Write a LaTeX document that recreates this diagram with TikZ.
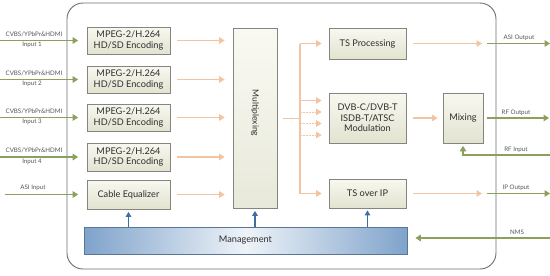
\documentclass[tikz,border=0pt]{standalone}
\usepackage{fontspec}
\setmainfont{Lato}
\usetikzlibrary{arrows.meta}
\definecolor{orng}{HTML}{F2C4A2}
\definecolor{grn}{HTML}{8AA05C}
\definecolor{blu}{HTML}{3D6FA5}
\definecolor{bord}{HTML}{85857D}
\definecolor{txt}{HTML}{2E2E2E}
\definecolor{lbl}{HTML}{555555}
\definecolor{boxt}{HTML}{F8F8F0}
\definecolor{boxb}{HTML}{E2E3D0}
\definecolor{mgl}{HTML}{7FA3CB}
\definecolor{mgc}{HTML}{EEF3F8}
\definecolor{outer}{HTML}{6E6E6E}
\begin{document}
\begin{tikzpicture}[x=1pt,y=-1pt,
  box/.style={draw=bord, line width=0.7pt, top color=boxt, bottom color=boxb,
    align=center, font=\fontsize{9.2}{10.5}\selectfont, text=txt, inner sep=0pt},
  oarr/.style={draw=orng, line width=1.3pt, -{Triangle[length=5.5pt,width=6.5pt]}},
  oline/.style={draw=orng, line width=1.3pt},
  odash/.style={draw=orng, line width=1pt, dash pattern=on 1.5pt off 1.5pt, -{Triangle[length=5.5pt,width=6.5pt]}},
  garr/.style={draw=grn, line width=1.4pt, -{Triangle[length=5.5pt,width=6.5pt]}},
  barr/.style={draw=blu, line width=1.4pt, -{Triangle[length=5pt,width=5.5pt]}},
  lab/.style={font=\fontsize{6.2}{7}\selectfont, text=lbl, inner sep=0pt}
]
\useasboundingbox (0,0) rectangle (550,276);
% outer frame
\draw[outer, line width=0.9pt, rounded corners=16pt] (67,3) rectangle (496,269);

% encoder boxes
\node[box, minimum width=83pt, minimum height=27pt] (enc1) at (128.5,40.5) {MPEG-2/H.264\\HD/SD Encoding};
\node[box, minimum width=83pt, minimum height=27pt] (enc2) at (128.5,79.5) {MPEG-2/H.264\\HD/SD Encoding};
\node[box, minimum width=83pt, minimum height=27pt] (enc3) at (128.5,117.5) {MPEG-2/H.264\\HD/SD Encoding};
\node[box, minimum width=83pt, minimum height=28pt] (enc4) at (128.5,157) {MPEG-2/H.264\\HD/SD Encoding};
\node[box, minimum width=83pt, minimum height=29pt] (cab) at (128.5,194.5) {Cable Equalizer};

% multiplexer
\node[box, minimum width=44pt, minimum height=180pt, top color=boxt!80!white, bottom color=boxb!80!white] (mux) at (255,118) {};
\node[font=\fontsize{8.5}{10}\selectfont, text=txt, rotate=-90, inner sep=0pt] (muxlbl) at (255,113) {Multiplexing};

% right boxes
\node[box, minimum width=77pt, minimum height=31pt] (tsp) at (367.5,43.5) {TS Processing};
\node[box, minimum width=77pt, minimum height=50pt] (dvb) at (367.5,118) {DVB-C/DVB-T\\ISDB-T/ATSC\\Modulation};
\node[box, minimum width=40pt, minimum height=50pt] (mix) at (463,118) {Mixing};
\node[box, minimum width=77pt, minimum height=29pt] (tsip) at (367.5,193.5) {TS over IP};

% management
\node[draw=blu!55!gray, line width=0.7pt, left color=mgl, right color=mgl, middle color=mgc,
  minimum width=323pt, minimum height=27pt, inner sep=0pt,
  font=\fontsize{9.2}{10.5}\selectfont, text=txt] (mgmt) at (245.5,240.5) {Management};

% inputs on the left
\foreach \n/\y/\k in {enc1/40.5/1, enc2/79.5/2, enc3/117.5/3, enc4/157/4} {
  \coordinate (in\k) at (0,\y);
  \draw[garr, shorten >=8.5pt] (in\k) -- (\n.west);
  \node[lab] (lt\k) at (34,\y-6.5) {CVBS/YPbPr\&HDMI};
  \node[lab] (lb\k) at (32,\y+4.5) {Input \k};
}
\coordinate (asiin) at (5,194.5);
\draw[garr, shorten >=8.5pt] (asiin) -- (cab.west);
\node[lab] (asilbl) at (33,188) {ASI Input};

% encoders to multiplexer
\foreach \n in {enc1,enc2,enc3,enc4,cab} {
  \draw[oarr, shorten <=7pt, shorten >=8pt] (\n.east) -- (\n.east -| mux.west);
}

% multiplexer to right
\coordinate (jn) at (300,118.5);
\coordinate (jt) at (300,43.5);
\coordinate (jb) at (300,193.5);
\draw[oline, shorten <=6pt] (mux.east |- jn) -- (jn);
\draw[oline] (jt) -- (jb);
\draw[oarr, shorten >=7pt] (jt) -- (tsp.west);
\draw[oarr, shorten >=7pt] (jb) -- (tsip.west);
\coordinate (d1) at (300,100.5);
\coordinate (d2) at (300,112);
\coordinate (d3) at (300,123.5);
\coordinate (d4) at (300,135);
\draw[oarr, shorten >=7pt] (d1) -- (d1 -| dvb.west);
\draw[odash, shorten >=7pt] (d2) -- (d2 -| dvb.west);
\draw[odash, shorten >=7pt] (d3) -- (d3 -| dvb.west);
\draw[odash, shorten >=7pt] (d4) -- (d4 -| dvb.west);

% dvb to mixing
\draw[oarr, shorten <=7pt, shorten >=5pt] (dvb.east) -- (mix.west);

% outputs
\coordinate (o1) at (482,43.5);
\coordinate (o3) at (482,193.5);
\draw[oarr, shorten <=7pt] (tsp.east) -- (o1);
\draw[oarr, shorten <=7pt] (tsip.east) -- (o3);
\coordinate (g1a) at (487,43.5);  \coordinate (g1b) at (550,43.5);
\coordinate (g2b) at (549,118);
\coordinate (g3a) at (487,193.5); \coordinate (g3b) at (550,193.5);
\draw[garr] (g1a) -- (g1b);
\draw[garr, shorten <=4pt] (mix.east) -- (g2b);
\draw[garr] (g3a) -- (g3b);
\node[lab] (asiout) at (519,38) {ASI Output};
\node[lab] (rfout) at (516,112.5) {RF Output};
\node[lab] (ipout) at (516,188) {IP Output};

% RF input
\coordinate (rfa) at (550,155);
\coordinate (rfc) at (463,155);
\draw[garr, shorten >=2.5pt] (rfa) -- (rfc) -- (mix.south);
\node[lab] (rfin) at (516,150) {RF Input};

% NMS
\coordinate (nmsa) at (550,238);
\draw[garr, shorten >=8pt] (nmsa) -- (nmsa -| mgmt.east);
\node[lab] (nms) at (517,232) {NMS};

% management arrows
\draw[barr, shorten >=2.5pt] (mgmt.north -| cab.south) -- (cab.south);
\draw[barr, shorten >=2.5pt] (mgmt.north -| mux.south) -- (mux.south);
\draw[barr, shorten >=2pt] (mgmt.north -| tsip.south) -- (tsip.south);
\end{tikzpicture}
\end{document}
